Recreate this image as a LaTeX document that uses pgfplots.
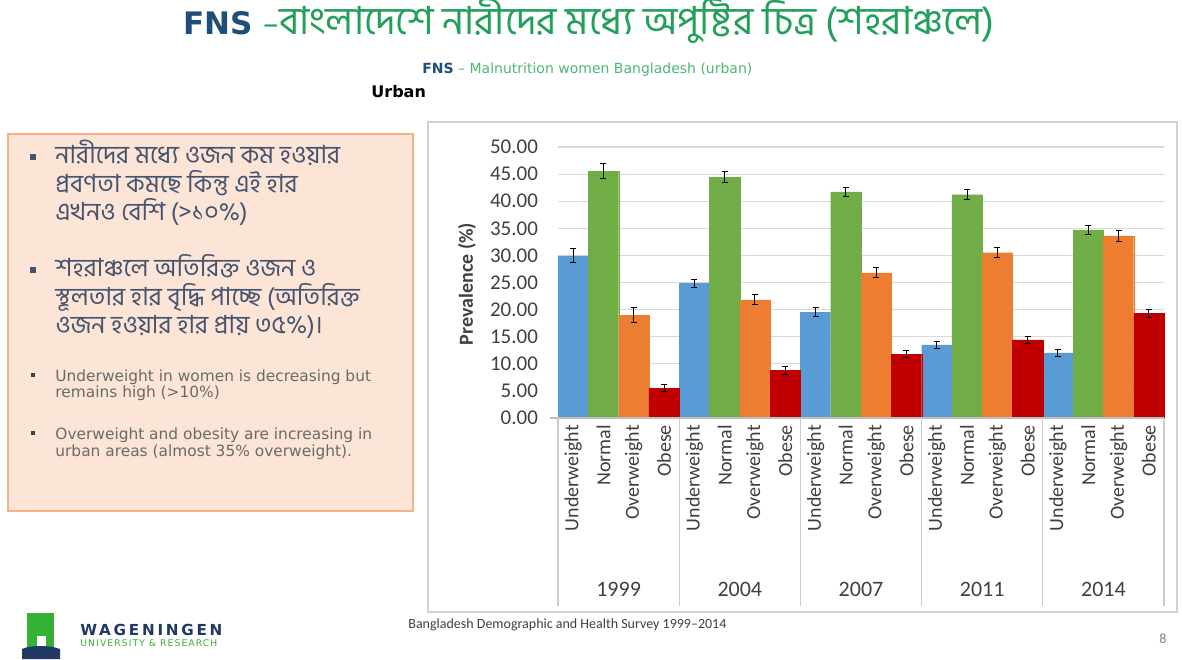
\documentclass[border=0pt]{standalone}
\usepackage{fontspec}
\setmainfont{Carlito}
\newfontfamily\bn[Script=Bengali]{Hind Siliguri}
\newfontfamily\dv{DejaVu Sans}
\usepackage{pgfplots}
\pgfplotsset{compat=1.18}
\usepackage{pgfplotstable}
\definecolor{cblue}{HTML}{5B9BD5}
\definecolor{cgreen}{HTML}{70AD47}
\definecolor{corange}{HTML}{ED7D31}
\definecolor{cred}{HTML}{C00000}
\definecolor{fnsblue}{HTML}{1F4E79}
\definecolor{titlegreen}{HTML}{22A05A}
\definecolor{subgreen}{HTML}{4CB870}
\definecolor{boxfill}{HTML}{FCE4D6}
\definecolor{boxline}{HTML}{F4B183}
\definecolor{bntext}{HTML}{45546E}
\definecolor{entext}{HTML}{6A6A6A}
\definecolor{labgray}{HTML}{404040}
\definecolor{wurgreen}{HTML}{34B233}
\definecolor{wurblue}{HTML}{1F3864}

% x, value, error
\pgfplotstableread{
x y e
0 29.9 1.3
4 24.8 0.8
8 19.5 0.8
12 13.5 0.6
16 12.0 0.7
}\tunder
\pgfplotstableread{
x y e
1 45.5 1.4
5 44.4 1.0
9 41.7 0.9
13 41.2 0.9
17 34.7 0.8
}\tnormal
\pgfplotstableread{
x y e
2 19.0 1.3
6 21.8 0.9
10 26.8 0.9
14 30.5 0.9
18 33.6 1.0
}\tover
\pgfplotstableread{
x y e
3 5.5 0.7
7 8.8 0.7
11 11.8 0.7
15 14.4 0.7
19 19.3 0.8
}\tobese

\begin{document}
\begin{tikzpicture}
\begin{scope}[x=0.5pt,y=-0.5pt]
\fill[white] (0,0) rectangle (1182,659);
\path[use as bounding box] (0,0) rectangle (1182,659);

% title
\node[anchor=base west, inner sep=0] at (183,34)
  {{\dv\bfseries\fontsize{15.5}{18}\selectfont\color{fnsblue}FNS }{\color{titlegreen}\dv\fontsize{15.5}{18}\selectfont –}{\bn\fontsize{19.4}{22}\selectfont\color{titlegreen}বাংলাদেশে নারীদের  মধ্যে  অপুষ্টির চিত্র (শহরাঞ্চলে)}};
\node[anchor=base west, inner sep=0] at (422,73)
  {\dv\fontsize{7}{8}\selectfont{\bfseries\color{fnsblue}FNS} {\color{subgreen}– Malnutrition women Bangladesh (urban)}};
\node[anchor=base west, inner sep=0] at (371,97)
  {\dv\bfseries\fontsize{8}{10}\selectfont Urban};

% text box
\draw[boxline, fill=boxfill, line width=0.6pt] (8,134) rectangle (413,511);
\fill[bntext] (30,154) rectangle (36,160);
\fill[bntext] (30,267) rectangle (36,273);
\fill[labgray] (31,373) rectangle (35,377);
\fill[labgray] (31,431) rectangle (35,435);
\begin{scope}[every node/.style={anchor=base west, inner sep=0, text=bntext, font=\bn\fontsize{12.5}{14}\selectfont}]
\node at (55,163) {নারীদের মধ্যে ওজন কম হওয়ার};
\node at (55,192) {প্রবণতা কমছে কিন্তু এই হার};
\node at (55,220) {এখনও বেশি (>১০\%)};
\node at (55,276) {শহরাঞ্চলে অতিরিক্ত ওজন ও};
\node at (55,305) {স্থূলতার হার বৃদ্ধি পাচ্ছে (অতিরিক্ত};
\node at (55,333) {ওজন হওয়ার হার প্রায় ৩৫\%)।};
\end{scope}
\begin{scope}[every node/.style={anchor=base west, inner sep=0, text=entext, font=\dv\fontsize{7.7}{9}\selectfont}]
\node at (55,381) {Underweight in women is decreasing but};
\node at (55,397) {remains high (>10\%)};
\node at (55,439) {Overweight and obesity are increasing in};
\node at (55,456) {urban areas (almost 35\% overweight).};
\end{scope}

% chart frame
\draw[gray!35, line width=0.6pt] (428,122) rectangle (1177,612);
\node[rotate=90, font=\bfseries\fontsize{10}{12}\selectfont, text=labgray] at (467,284) {Prevalence (\%)};

% footer
\node[anchor=base west, inner sep=0, font=\fontsize{7}{8}\selectfont, text=labgray] at (408,628)
  {Bangladesh Demographic and Health Survey 1999–2014};
\node[anchor=base, inner sep=0, font=\fontsize{7}{8}\selectfont, text=gray] at (1163,643) {8};

% logo
\fill[wurgreen] (27,613) rectangle (54,652);
\fill[white] (37,636) rectangle (46,652);
\fill[wurblue] (22,649) .. controls (30,645) and (50,645) .. (60,649) -- (60,659) -- (22,659) -- cycle;
\node[anchor=base west, inner sep=0, text=wurblue, font=\dv\bfseries\fontsize{7.6}{9}\selectfont] at (80,635)
  {\addfontfeature{LetterSpace=18}WAGENINGEN};
\node[anchor=base west, inner sep=0, text=wurgreen, font=\dv\fontsize{4.6}{5}\selectfont] at (80,646)
  {\addfontfeature{LetterSpace=12}UNIVERSITY \& RESEARCH};
\end{scope}

\begin{axis}[
  at={(279pt,-209pt)}, anchor=south west,
  scale only axis, width=303pt, height=135.5pt,
  ybar, bar width=1, bar shift=0pt,
  xmin=-0.5, xmax=19.5, ymin=0, ymax=50,
  ytick={0,5,...,50},
  xtick={0,...,19},
  xticklabels={Underweight,Normal,Overweight,Obese,Underweight,Normal,Overweight,Obese,Underweight,Normal,Overweight,Obese,Underweight,Normal,Overweight,Obese,Underweight,Normal,Overweight,Obese},
  xticklabel style={rotate=90, anchor=east, font=\fontsize{10}{12}\selectfont, text=labgray},
  yticklabel style={font=\fontsize{10.5}{12}\selectfont, text=labgray, xshift=-6.5pt,
    /pgf/number format/fixed, /pgf/number format/fixed zerofill, /pgf/number format/precision=2},
  /pgf/number format/assume math mode=true,
  axis line style={draw=none},
  major tick length=0pt,
  ymajorgrids, grid style={gray!30, line width=0.6pt},
  clip=false,
  error bars/y dir=both,
  error bars/y explicit,
  error bars/error mark=|,
  error bars/error bar style={black, line width=0.5pt},
  error bars/error mark options={black, mark size=1.5pt, line width=0.5pt},
]
\addplot[fill=cblue, draw=cblue, line width=0.1pt] table[x=x, y=y, y error=e] {\tunder};
\addplot[fill=cgreen, draw=cgreen, line width=0.1pt] table[x=x, y=y, y error=e] {\tnormal};
\addplot[fill=corange, draw=corange, line width=0.1pt] table[x=x, y=y, y error=e] {\tover};
\addplot[fill=cred, draw=cred, line width=0.1pt] table[x=x, y=y, y error=e] {\tobese};
\draw[gray!50, line width=0.6pt] (axis cs:-0.78,0) -- (axis cs:19.5,0);
\pgfplotsinvokeforeach{-0.5,3.5,7.5,11.5,15.5,19.5}{
  \draw[gray!40, line width=0.6pt] (axis cs:#1,0) -- (axis cs:#1,-34.6);
}
\node[font=\fontsize{11}{13}\selectfont, text=labgray] at (axis cs:1.5,-31.6) {1999};
\node[font=\fontsize{11}{13}\selectfont, text=labgray] at (axis cs:5.5,-31.6) {2004};
\node[font=\fontsize{11}{13}\selectfont, text=labgray] at (axis cs:9.5,-31.6) {2007};
\node[font=\fontsize{11}{13}\selectfont, text=labgray] at (axis cs:13.5,-31.6) {2011};
\node[font=\fontsize{11}{13}\selectfont, text=labgray] at (axis cs:17.5,-31.6) {2014};
\end{axis}
\end{tikzpicture}
\end{document}
